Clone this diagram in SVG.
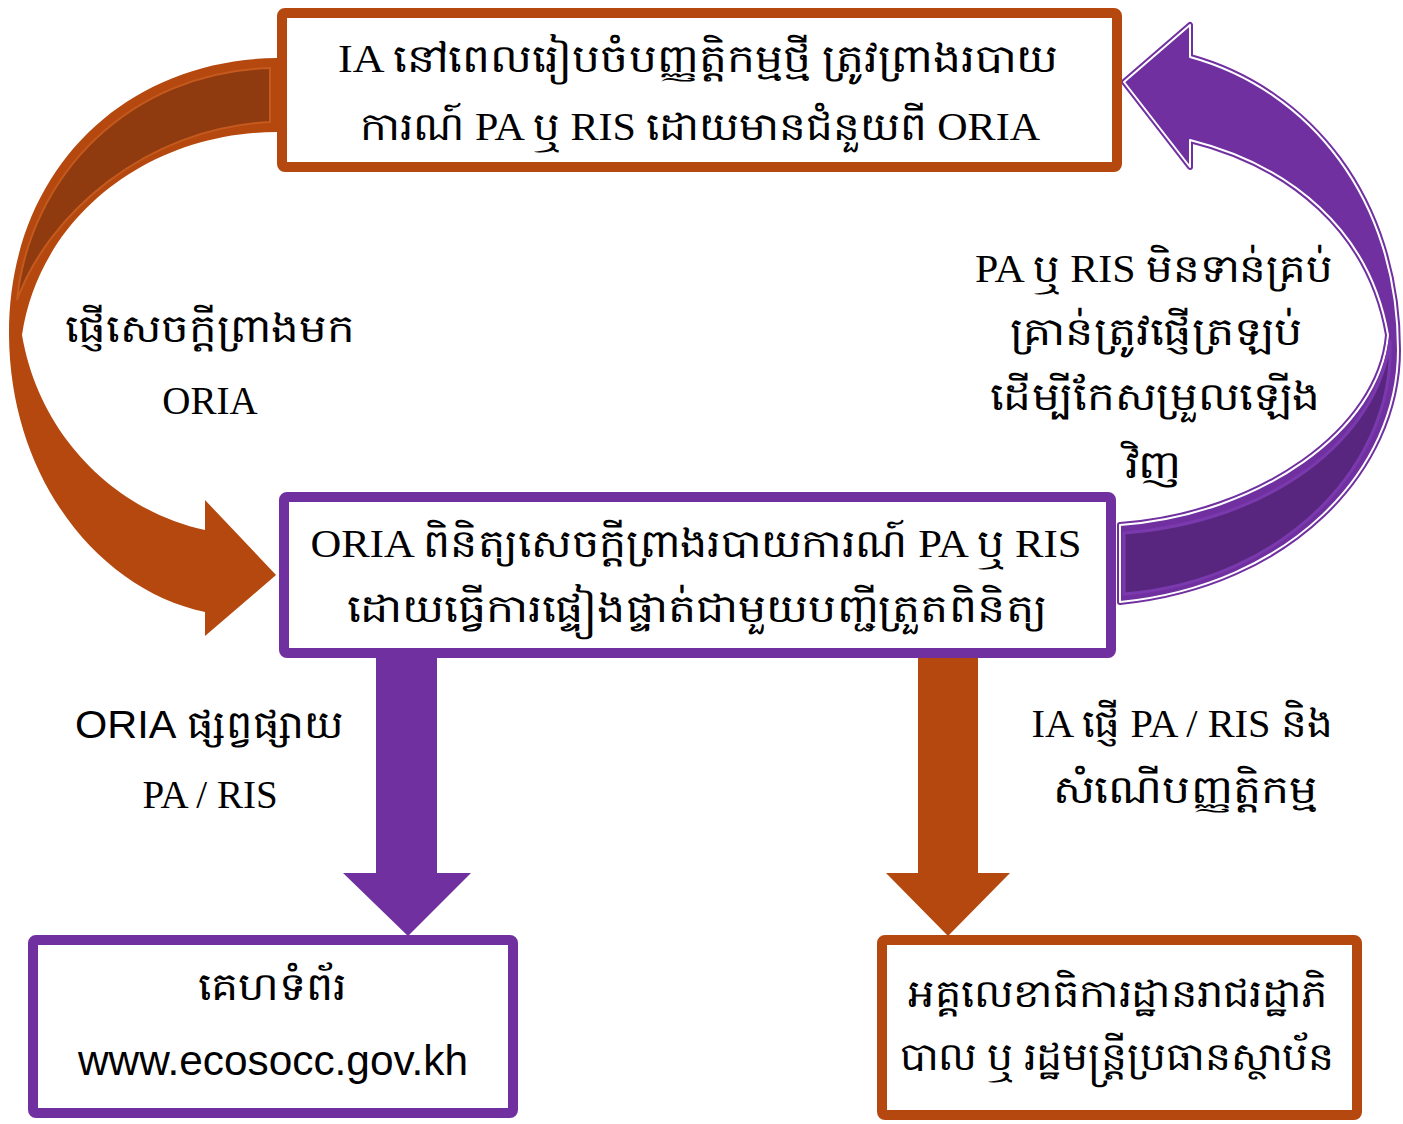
<svg xmlns="http://www.w3.org/2000/svg" width="1403" height="1124" viewBox="0 0 1403 1124">
<style>
.box{fill:#fff;stroke-width:10;stroke-linejoin:round}
.or{stroke:#B5480F}
.pu{stroke:#7030A0}
text{font-family:"Liberation Serif","Noto Sans",serif;fill:#000;text-anchor:middle;font-size:39px}
.s{font-family:"Liberation Sans","Noto Sans",sans-serif}
.url{font-size:42px}
</style>
<rect width="1403" height="1124" fill="#fff"/>
<g id="connectors">
  <!-- orange curved arrow -->
  <path d="M277,58 C120,60 8,175 9,335 C10,480 100,590 205,612 L205,636 L276,575 L205,500 L205,530 C120,512 40,440 22,335 C40,215 150,132 277,132 Z" fill="#B5480F"/>
  <path d="M270,68 C130,72 30,175 17,300 C48,215 145,128 270,122 Z" fill="#8F3A0F" stroke="#C45A1E" stroke-width="2"/>
  <!-- purple curved arrow -->
  <path d="M1190,57 C1310,90 1398,200 1398,350 C1398,470 1290,585 1120,602 L1120,525 C1260,515 1380,430 1388,335 C1370,230 1290,165 1190,140 L1190,167 L1124,82 L1190,25 Z" fill="#7030A0" stroke="#7030A0" stroke-width="6" stroke-linejoin="round"/>
  <path d="M1190,57 C1310,90 1398,200 1398,350 C1398,470 1290,585 1120,602 L1120,525 C1260,515 1380,430 1388,335 C1370,230 1290,165 1190,140 L1190,167 L1124,82 L1190,25 Z" fill="none" stroke="#fff" stroke-width="2" stroke-linejoin="round"/>
  <path d="M1124,533 C1270,522 1378,440 1390,340 C1396,460 1290,580 1124,594 Z" fill="#58267F" stroke="#7A3AAE" stroke-width="3"/>
  <!-- straight arrows -->
  <path d="M376,658 L437,658 L437,873 L471,873 L408,936 L343,873 L376,873 Z" fill="#7030A0"/>
  <path d="M918,658 L978,658 L978,873 L1010,873 L948,936 L886,873 L918,873 Z" fill="#B5480F"/>
</g>
<g id="node-top">
  <rect class="box or" x="282" y="13" width="835" height="154" rx="3"/>
  <text x="698" y="72" textLength="720" lengthAdjust="spacingAndGlyphs">IA នៅពេលរៀបចំបញ្ញត្តិកម្មថ្មី ត្រូវព្រាងរបាយ</text>
  <text x="700" y="140" textLength="680" lengthAdjust="spacingAndGlyphs">ការណ៍ PA ឬ RIS ដោយមានជំនួយពី ORIA</text>
</g>
<g id="node-middle">
  <rect class="box pu" x="284" y="497" width="827" height="156" rx="3"/>
  <text x="696" y="557" textLength="771" lengthAdjust="spacingAndGlyphs">ORIA ពិនិត្យសេចក្តីព្រាងរបាយការណ៍ PA ឬ RIS</text>
  <text x="697" y="622" textLength="701" lengthAdjust="spacingAndGlyphs">ដោយធ្វើការផ្ទៀងផ្ទាត់ជាមួយបញ្ជីត្រួតពិនិត្យ</text>
</g>
<g id="node-web">
  <rect class="box pu" x="33" y="940" width="480" height="173" rx="3"/>
  <text x="272" y="1000" textLength="149" lengthAdjust="spacingAndGlyphs">គេហទំព័រ</text>
  <text class="s url" x="273" y="1075" textLength="390" lengthAdjust="spacingAndGlyphs">www.ecosocc.gov.kh</text>
</g>
<g id="node-gov">
  <rect class="box or" x="882" y="940" width="475" height="175" rx="3"/>
  <text x="1118" y="1007" textLength="420" lengthAdjust="spacingAndGlyphs">អគ្គលេខាធិការដ្ឋានរាជរដ្ឋាភិ</text>
  <text x="1117" y="1070" textLength="435" lengthAdjust="spacingAndGlyphs">បាល ឬ រដ្ឋមន្ត្រីប្រធានស្ថាប័ន</text>
</g>
<g id="labels">
  <text x="210" y="342" textLength="290" lengthAdjust="spacingAndGlyphs">ផ្ញើសេចក្តីព្រាងមក</text>
  <text x="210" y="414">ORIA</text>
  <text x="1154" y="282" textLength="358" lengthAdjust="spacingAndGlyphs">PA ឬ RIS មិនទាន់គ្រប់</text>
  <text x="1156" y="345" textLength="293" lengthAdjust="spacingAndGlyphs">គ្រាន់ត្រូវផ្ញើត្រឡប់</text>
  <text x="1155" y="410" textLength="330" lengthAdjust="spacingAndGlyphs">ដើម្បីកែសម្រួលឡើង</text>
  <text x="1153" y="478" textLength="57" lengthAdjust="spacingAndGlyphs">វិញ</text>
  <text x="209" y="738" textLength="268" lengthAdjust="spacingAndGlyphs"><tspan class="s">ORIA</tspan> ផ្សព្វផ្សាយ</text>
  <text x="210" y="808">PA / RIS</text>
  <text x="1182" y="737" textLength="301" lengthAdjust="spacingAndGlyphs">IA ផ្ញើ PA / RIS និង</text>
  <text x="1185" y="803" textLength="265" lengthAdjust="spacingAndGlyphs">សំណើបញ្ញត្តិកម្ម</text>
</g>
</svg>
